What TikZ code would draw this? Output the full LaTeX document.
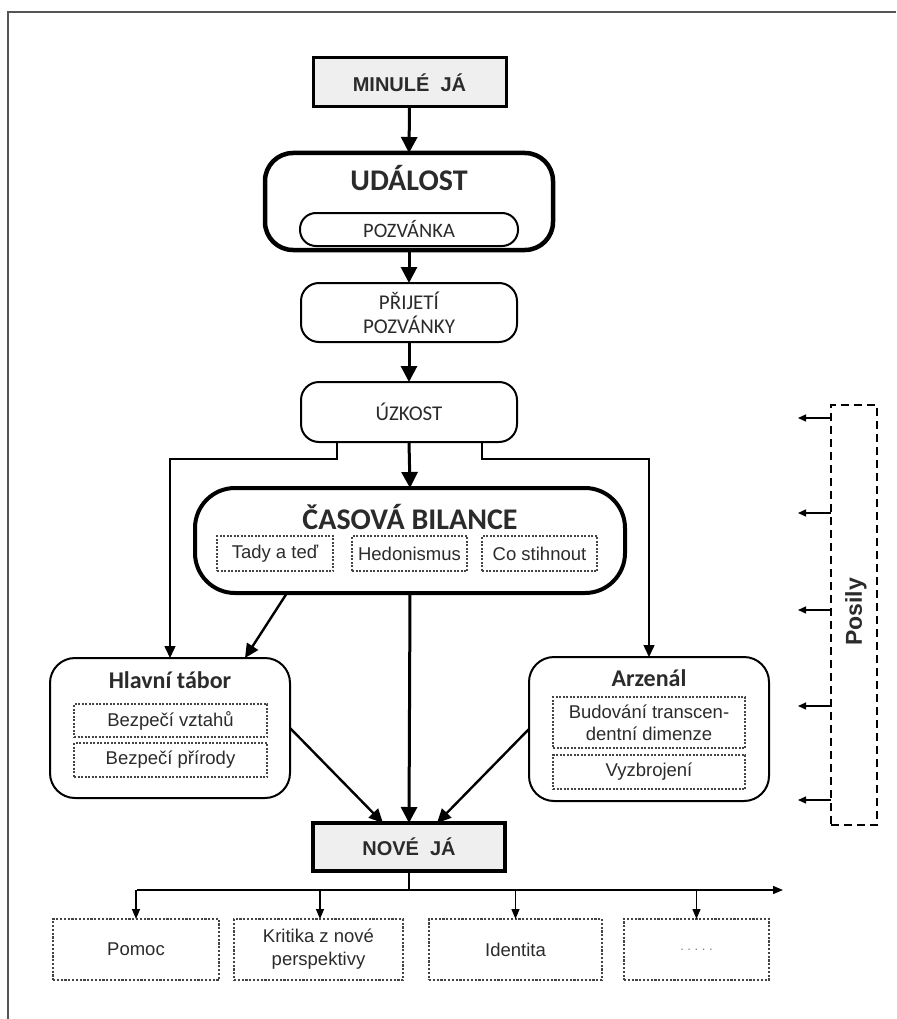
\documentclass[tikz,border=0pt]{standalone}
\usepackage{fontspec}
\setmainfont{Liberation Sans}
\newfontfamily\calfam{Carlito}
\usetikzlibrary{arrows.meta}
\definecolor{txt}{HTML}{2B2B2B}
\definecolor{boxfill}{HTML}{EFEFEF}
\definecolor{framec}{HTML}{555555}
\definecolor{dotc}{HTML}{444444}
\tikzset{
  every node/.style={inner sep=0pt, outer sep=0pt, align=center, text=txt},
  gbox/.style={draw, line width=3pt, fill=boxfill, font={\bfseries\fontsize{20}{23}\selectfont}},
  biground/.style={draw, line width=4.5pt},
  midround/.style={draw, line width=2pt, font={\calfam\fontsize{21}{24}\selectfont}},
  pill/.style={draw, line width=2pt, rounded corners=16pt, font={\calfam\fontsize{20.5}{22}\selectfont}},
  ttl/.style={font={\calfam\bfseries\fontsize{24}{27}\selectfont}},
  dotbox/.style={draw=dotc, line width=1.4pt, dash pattern=on 2pt off 1.5pt, font={\fontsize{18.5}{22}\selectfont}},
  outbox/.style={draw=dotc, line width=1.6pt, dash pattern=on 2.2pt off 1.6pt, font={\fontsize{18.5}{23}\selectfont}},
  bigarrow/.style={line width=3pt, -{Triangle[length=16pt,width=16pt]}},
  medarrow/.style={line width=2.4pt, -{Triangle[length=14pt,width=13pt]}},
  thinarrow/.style={line width=1.5pt, -{Triangle[length=12pt,width=11pt]}},
  smallarrow/.style={line width=1.3pt, -{Triangle[length=10pt,width=8pt]}},
  posarrow/.style={line width=1.2pt, -{Triangle[length=8pt,width=7pt]}},
}
\begin{document}
\begin{tikzpicture}[x=1pt,y=-1pt]
\useasboundingbox (0,0) rectangle (896,1019);
\fill[white] (0,0) rectangle (896,1019);
\draw[framec, line width=1.5pt] (8,1019) -- (8,12) -- (896,12);

% top chain
\node[gbox, minimum width=193pt, minimum height=49pt] (mj) at (409.5,82.5) {MINULÉ\ \ JÁ};
\node[biground, rounded corners=28pt, minimum width=288pt, minimum height=97pt] (ud) at (409,201.5) {};
\node[font={\calfam\bfseries\fontsize{30}{34}\selectfont}] (udt) at (409,178) {UDÁLOST};
\node[pill, minimum width=218pt, minimum height=33pt] (pz) at (409,229.5) {POZVÁNKA};
\node[midround, rounded corners=18pt, minimum width=216pt, minimum height=59pt] (pp) at (409,312.5) {PŘIJETÍ\\POZVÁNKY};
\node[midround, rounded corners=18pt, minimum width=216pt, minimum height=60pt] (uz) at (409,412) {ÚZKOST};

% casova bilance
\node[biground, line width=4pt, rounded corners=40pt, minimum width=430pt, minimum height=105pt] (cb) at (410,540.5) {};
\node[font={\calfam\bfseries\fontsize{30}{34}\selectfont}] (cbt) at (410,517) {ČASOVÁ BILANCE};
\node[dotbox, minimum width=116pt, minimum height=35pt] (c1) at (275,553.5) {Tady a teď};
\node[dotbox, minimum width=115pt, minimum height=35pt] (c2) at (409.5,553.5) {Hedonismus};
\node[dotbox, minimum width=115pt, minimum height=35pt] (c3) at (539.5,553.5) {Co stihnout};

% hlavni tabor
\node[draw, line width=2pt, rounded corners=25pt, minimum width=240pt, minimum height=140pt] (ht) at (170,728) {};
\node[ttl] (htt) at (170,680) {Hlavní tábor};
\node[dotbox, minimum width=193pt, minimum height=33pt] (h1) at (170.5,720.5) {Bezpečí vztahů};
\node[dotbox, minimum width=193pt, minimum height=34pt] (h2) at (170.5,760) {Bezpečí přírody};

% arzenal
\node[draw, line width=2pt, rounded corners=25pt, minimum width=240pt, minimum height=144pt] (az) at (649,729) {};
\node[ttl] (azt) at (649,678) {Arzenál};
\node[dotbox, minimum width=192pt, minimum height=51pt] (a1) at (649,722.5) {Budování transcen-\\dentní dimenze};
\node[dotbox, minimum width=192pt, minimum height=34pt] (a2) at (649,772) {Vyzbrojení};

% nove ja
\node[gbox, line width=3.5pt, minimum width=192pt, minimum height=48pt] (nj) at (409,847) {NOVÉ\ \ JÁ};

% bottom boxes
\node[outbox, minimum width=166pt, minimum height=61pt] (b1) at (136,949.5) {Pomoc};
\node[outbox, minimum width=169pt, minimum height=61pt] (b2) at (318.5,949.5) {Kritika z nové\\perspektivy};
\node[outbox, minimum width=173pt, minimum height=61pt] (b3) at (515.5,949.5) {Identita};
\node[outbox, minimum width=145pt, minimum height=61pt, font={\fontsize{13}{15}\selectfont}, text=gray] (b4) at (696.5,949.5) {.\ .\ .\ .\ .};

% posily
\node[draw, line width=2pt, dash pattern=on 8pt off 5pt, minimum width=46pt, minimum height=420pt] (ps) at (854,615) {};
\node[rotate=90, font={\bfseries\fontsize{23}{26}\selectfont}] (pst) at (856,612) {Posily};

% connectors
\draw[bigarrow] (mj.south) -- (ud.north);
\draw[bigarrow] (ud.south) -- (pp.north);
\draw[bigarrow] (pp.south) -- (uz.north);
\draw[bigarrow] (uz.south) -- (cb.north);
\draw[thinarrow] ([xshift=-72pt]uz.south) -- ++(0,17) -| (ht.north);
\draw[thinarrow] ([xshift=73pt]uz.south) -- ++(0,17) -| (az.north);
\draw[medarrow] ([xshift=-123pt]cb.south) -- ([xshift=75pt]ht.north);
\draw[bigarrow] (cb.south) -- (nj.north);
\draw[medarrow] (ht.east) -- ([xshift=-26pt]nj.north);
\draw[medarrow] (az.west) -- ([xshift=28pt]nj.north);

% bottom fan
\coordinate (hl) at (137,890);
\coordinate (he) at (783,890);
\draw[line width=1.3pt] (nj.south) -- (nj.south |- hl);
\draw[smallarrow] (hl) -- (he);
\draw[smallarrow] (b1.north |- hl) -- (b1.north);
\draw[smallarrow] ([xshift=1.5pt]b2.north |- hl) -- ([xshift=1.5pt]b2.north);
\draw[smallarrow] (b3.north |- hl) -- (b3.north);
\draw[smallarrow] (b4.north |- hl) -- (b4.north);

% posily arrows
\foreach \yy in {418,513,610,706,800}{
  \draw[posarrow] (ps.west |- 0,\yy) -- ++(-33,0);
}
\end{tikzpicture}
\end{document}
